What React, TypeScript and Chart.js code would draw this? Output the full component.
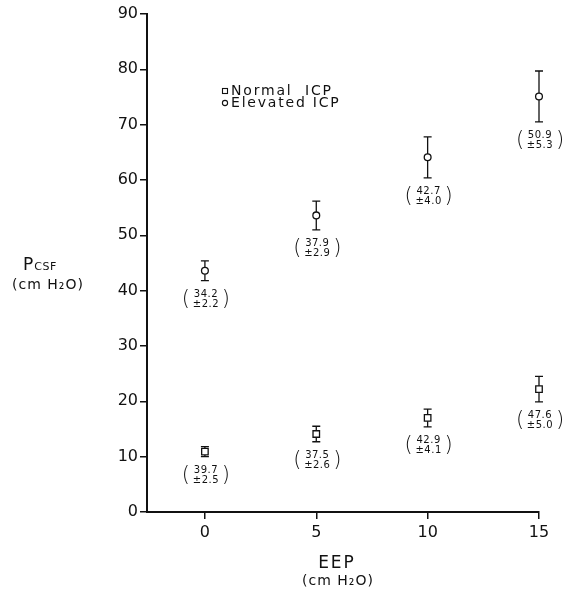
import React, { useEffect, useRef } from "react";
import { Chart, registerables } from "chart.js";

Chart.register(...registerables);

// ---- data ----
const eep = [0, 5, 10, 15];
const normalMean = [10.9, 14.1, 17.0, 22.2];
const normalErr = [0.9, 1.4, 1.6, 2.3];
const elevatedMean = [43.6, 53.6, 64.1, 75.1];
const elevatedErr = [1.8, 2.6, 3.7, 4.6];
const normalNoteMean = ["39.7", "37.5", "42.9", "47.6"];
const normalNoteSd = ["±2.5", "±2.6", "±4.1", "±5.0"];
const elevatedNoteMean = ["34.2", "37.9", "42.7", "50.9"];
const elevatedNoteSd = ["±2.2", "±2.9", "±4.0", "±5.3"];
const xTickValues = [0, 5, 10, 15];
const seriesLabels = ["Normal  ICP", "Elevated ICP"];
const yTitleMain = "P";
const yTitleSub = "CSF";
const unitTitle = "(cm H₂O)";
const xTitle = "EEP";

const FONT = "'DejaVu Sans', 'Liberation Sans', sans-serif";
const INK = "#111";

const errs = [normalErr, elevatedErr];
const notes = [
  [normalNoteMean, normalNoteSd],
  [elevatedNoteMean, elevatedNoteSd],
];

const extrasPlugin = {
  id: "extras",
  beforeDatasetsDraw(chart: any) {
    const ctx = chart.ctx;
    const xs = chart.scales.x;
    const ys = chart.scales.y;
    ctx.save();
    ctx.strokeStyle = INK;
    ctx.lineWidth = 1.3;
    chart.data.datasets.forEach((ds: any, di: number) => {
      ds.data.forEach((p: any, i: number) => {
        const e = errs[di][i];
        const px = xs.getPixelForValue(p.x);
        const top = ys.getPixelForValue(p.y + e);
        const bot = ys.getPixelForValue(p.y - e);
        ctx.beginPath();
        ctx.moveTo(px, top);
        ctx.lineTo(px, bot);
        ctx.moveTo(px - 4, top);
        ctx.lineTo(px + 4, top);
        ctx.moveTo(px - 4, bot);
        ctx.lineTo(px + 4, bot);
        ctx.stroke();
      });
    });
    ctx.restore();
  },
  afterDraw(chart: any) {
    const ctx = chart.ctx;
    const xs = chart.scales.x;
    const ys = chart.scales.y;
    ctx.save();
    ctx.fillStyle = INK;
    // annotations under each point
    chart.data.datasets.forEach((ds: any, di: number) => {
      ds.data.forEach((p: any, i: number) => {
        const e = errs[di][i];
        const px = xs.getPixelForValue(p.x);
        const bot = ys.getPixelForValue(p.y - e);
        const l1 = bot + 14;
        const l2 = l1 + 10;
        ctx.textAlign = "center";
        ctx.textBaseline = "middle";
        (ctx as any).letterSpacing = "0.5px";
        ctx.font = `10px ${FONT}`;
        ctx.fillText(notes[di][0][i], px + 1, l1);
        ctx.fillText(notes[di][1][i], px + 1, l2);
        (ctx as any).letterSpacing = "0px";
        ctx.font = `300 21px ${FONT}`;
        ctx.fillText("(", px - 19, (l1 + l2) / 2);
        ctx.fillText(")", px + 21, (l1 + l2) / 2);
      });
    });

    // legend
    ctx.font = `14px ${FONT}`;
    (ctx as any).letterSpacing = "1.8px";
    ctx.textAlign = "left";
    ctx.textBaseline = "middle";
    ctx.lineWidth = 1.1;
    ctx.strokeStyle = INK;
    const lx = 225;
    const ly = [91, 103];
    ctx.strokeRect(lx - 2.5, ly[0] - 2.5, 5, 5);
    ctx.fillText(chart.data.datasets[0].label, lx + 6, ly[0]);
    ctx.beginPath();
    ctx.arc(lx, ly[1], 2.6, 0, Math.PI * 2);
    ctx.stroke();
    ctx.fillText(chart.data.datasets[1].label, lx + 6, ly[1]);

    // y title
    ctx.textBaseline = "alphabetic";
    ctx.textAlign = "left";
    (ctx as any).letterSpacing = "0px";
    ctx.font = `17px ${FONT}`;
    ctx.fillText(yTitleMain, 23, 270);
    const pw = ctx.measureText(yTitleMain).width;
    ctx.font = `11px ${FONT}`;
    (ctx as any).letterSpacing = "0.5px";
    ctx.fillText(yTitleSub, 23 + pw + 1, 270);
    ctx.font = `14px ${FONT}`;
    (ctx as any).letterSpacing = "1px";
    ctx.textAlign = "center";
    ctx.fillText(unitTitle, 48, 289);

    // x title
    ctx.font = `17px ${FONT}`;
    (ctx as any).letterSpacing = "2px";
    ctx.textBaseline = "middle";
    ctx.fillText(xTitle, 337, 564);
    ctx.font = `14px ${FONT}`;
    (ctx as any).letterSpacing = "1px";
    ctx.fillText(unitTitle, 338, 581);
    ctx.restore();
  },
};

export default function App() {
  const ref = useRef<HTMLCanvasElement | null>(null);
  useEffect(() => {
    if (!ref.current) return;
    const chart = new Chart(ref.current, {
      type: "scatter",
      data: {
        datasets: [
          {
            label: seriesLabels[0],
            data: eep.map((x, i) => ({ x, y: normalMean[i] })),
            pointStyle: "rect",
            pointRadius: 4.6,
            backgroundColor: "#fff",
            borderColor: INK,
            borderWidth: 1.3,
            clip: false,
          },
          {
            label: seriesLabels[1],
            data: eep.map((x, i) => ({ x, y: elevatedMean[i] })),
            pointStyle: "circle",
            pointRadius: 3.4,
            backgroundColor: "#fff",
            borderColor: INK,
            borderWidth: 1.3,
            clip: false,
          },
        ],
      },
      options: {
        animation: false,
        responsive: false,
        devicePixelRatio: 1,
        layout: { padding: { left: 0, top: 14, right: 28, bottom: 0 } },
        plugins: {
          legend: { display: false },
          tooltip: { enabled: false },
        },
        scales: {
          x: {
            type: "linear",
            min: -2.6,
            max: 15,
            afterBuildTicks: (s: any) => {
              s.ticks = xTickValues.map((v) => ({ value: v }));
            },
            afterFit: (s: any) => {
              s.height = 82;
            },
            border: { display: true, color: INK, width: 2 },
            grid: {
              display: true,
              drawOnChartArea: false,
              drawTicks: true,
              tickLength: 7,
              color: INK,
              lineWidth: 1.5,
            },
            ticks: {
              color: INK,
              padding: 4,
              font: { family: FONT, size: 16 },
            },
          },
          y: {
            type: "linear",
            min: 0,
            max: 90,
            afterFit: (s: any) => {
              s.width = 147;
            },
            border: { display: true, color: INK, width: 2 },
            grid: {
              display: true,
              drawOnChartArea: false,
              drawTicks: true,
              tickLength: 7,
              color: INK,
              lineWidth: 1.5,
            },
            ticks: {
              stepSize: 10,
              color: INK,
              padding: 2,
              font: { family: FONT, size: 16 },
            },
          },
        },
      },
      plugins: [extrasPlugin],
    } as any);
    return () => chart.destroy();
  }, []);
  return (
    <div style={{ position: "fixed", left: 0, top: 0, width: 567, height: 594, background: "#fff" }}>
      <canvas ref={ref} width={567} height={594} style={{ width: 567, height: 594, display: "block" }} />
    </div>
  );
}
